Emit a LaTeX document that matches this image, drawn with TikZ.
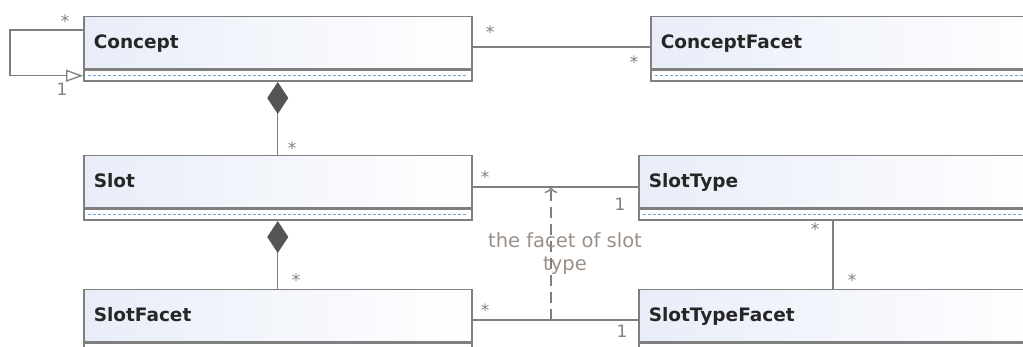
\documentclass[tikz,border=0pt]{standalone}
\usepackage{fontspec}
\setmainfont{DejaVu Sans}
\usetikzlibrary{arrows.meta,calc}
\definecolor{bordergray}{HTML}{7F7F7F}
\definecolor{hdrblue}{HTML}{E8EDF8}
\definecolor{dashblue}{HTML}{6FA3D8}
\definecolor{multcol}{HTML}{8A7E76}
\definecolor{labcol}{HTML}{9A9088}
\definecolor{diamondcol}{HTML}{555555}
\definecolor{txtcol}{HTML}{262626}
\tikzset{
  hdr/.style={draw=bordergray, line width=1.5pt, left color=hdrblue, right color=white,
    minimum height=52pt, anchor=north west, inner xsep=10pt, inner ysep=0pt, align=left,
    text height=13pt, text depth=2pt,
    font=\fontsize{18.5}{21}\selectfont\bfseries, text=txtcol},
  comp/.style={draw=bordergray, line width=1.5pt, fill=white, minimum height=11pt,
    anchor=north west, inner sep=0pt},
  conn/.style={draw=bordergray, line width=1.3pt},
  mult/.style={font=\fontsize{17}{18}\selectfont, text=multcol, inner sep=0pt},
  labtext/.style={font=\fontsize{19.5}{23}\selectfont, text=labcol, align=center, inner sep=0pt}
}
\newcommand{\umlclass}[5]{%
  \node[hdr, minimum width=#4pt, text width=#4pt-20pt] (#1) at (#2,#3) {#5};
  \node[comp, minimum width=#4pt] (#1c) at (#1.south west) {};
  \draw[dashblue, line width=1.4pt, dash pattern=on 3pt off 2pt]
    ($(#1c.west)+(5,0)$) -- ($(#1c.east)+(-5,0)$);
}
\begin{document}
\begin{tikzpicture}[x=1pt,y=-1pt]
\clip (0,0) rectangle (1023,347);
\fill[white] (0,0) rectangle (1023,347);
\umlclass{Concept}{83}{16}{388}{Concept}
\umlclass{ConceptFacet}{650}{16}{400}{ConceptFacet}
\umlclass{Slot}{83}{155}{388}{Slot}
\umlclass{SlotType}{638}{155}{410}{SlotType}
\umlclass{SlotFacet}{83}{289}{388}{SlotFacet}
\umlclass{SlotTypeFacet}{638}{289}{410}{SlotTypeFacet}
% self association with generalization
\coordinate (selfA) at ($(Concept.north west)+(0,14)$);
\draw[conn, -{Triangle[open, length=17pt, width=12pt, fill=white]}]
  (selfA) -- ++(-73,0) |- (Conceptc.west);
\node[mult] (m1) at (65,21) {*};
\node[mult] (m2) at (62,89) {1};
% Concept -- ConceptFacet
\draw[conn] (Concept.east |- 0,47) -- (ConceptFacet.west |- 0,47);
\node[mult] (m3) at (490,32) {*};
\node[mult] (m4) at (634,62) {*};
% compositions
\draw[conn, {Diamond[length=32pt, width=21pt, fill=diamondcol, color=diamondcol]}-] (Conceptc.south) -- (Slot.north);
\node[mult] (m5) at (292,148) {*};
\draw[conn, {Diamond[length=32pt, width=21pt, fill=diamondcol, color=diamondcol]}-] (Slotc.south) -- (SlotFacet.north);
\node[mult] (m6) at (296,280) {*};
% Slot -- SlotType
\draw[conn] (Slot.east |- 0,187) -- (SlotType.west |- 0,187);
\node[mult] (m7) at (485,177) {*};
\node[mult] (m8) at (620,204) {1};
% SlotFacet -- SlotTypeFacet
\draw[conn] (SlotFacet.east |- 0,320) -- (SlotTypeFacet.west |- 0,320);
\node[mult] (m9) at (485,310) {*};
\node[mult] (m10) at (622,331) {1};
% SlotType -- SlotTypeFacet
\draw[conn] (SlotTypec.south -| 833,0) -- (SlotTypeFacet.north -| 833,0);
\node[mult] (m11) at (815,229) {*};
\node[mult] (m12) at (852,280) {*};
% dependency
\coordinate (depS) at (551,320);
\coordinate (depT) at (551,187);
\draw[conn, dash pattern=on 11pt off 6pt, -{To[length=6pt, width=13pt]}] (depS) -- (depT);
\node[labtext] (lab) at (565,254) {the facet of slot\\type};
\end{tikzpicture}
\end{document}
